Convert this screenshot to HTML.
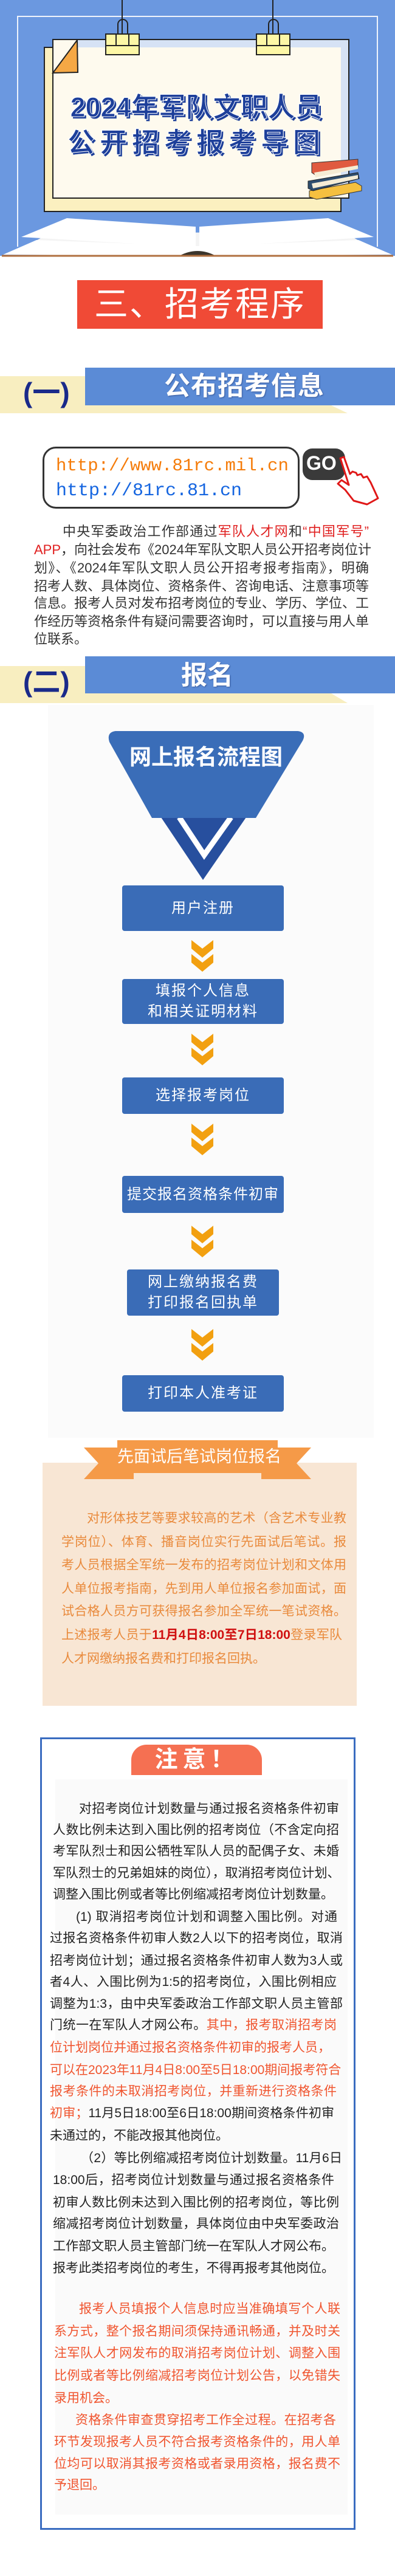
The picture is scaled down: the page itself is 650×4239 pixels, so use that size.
<!DOCTYPE html>
<html><head><meta charset="utf-8">
<style>
*{margin:0;padding:0;box-sizing:border-box}
body{width:650px;height:4239px;background:#fff;overflow:hidden}
#c{position:relative;width:650px;height:4239px;overflow:hidden;font-family:"Liberation Sans","Noto Sans CJK SC",sans-serif}
.a{position:absolute}
.j{position:absolute;text-align:justify;text-align-last:justify;white-space:nowrap;overflow:visible}
.ln{position:absolute;white-space:nowrap}
.box{position:absolute;left:201px;width:266px;background:#3a6cb7;border-radius:4px;color:#fff;font-size:24px;letter-spacing:2px;text-align:center;display:flex;flex-direction:column;justify-content:center;line-height:34px}
.p1{font-size:22px;color:#333;line-height:30px}
.p2{font-size:21px;color:#e98a3c;line-height:30px}
.p3{font-size:21px;color:#222;line-height:30px}
.r{color:#e02020}
.o{color:#f0552f}
</style></head><body><div id="c">

<!-- HEADER -->
<div class="a" style="left:0;top:0;width:650px;height:421px;background:#6b98e0"></div>
<div class="a" style="left:28px;top:26px;width:594px;height:380px;border:2px solid #eef3fc;border-bottom:none"></div>
<div class="a" style="left:200px;top:0;width:2px;height:60px;background:#222"></div>
<div class="a" style="left:448px;top:0;width:2px;height:60px;background:#222"></div>
<div class="a" style="left:72px;top:77px;width:490px;height:272px;background:#fbf0c0;border:2px solid #222"></div>
<div class="a" style="left:86px;top:64px;width:489px;height:263px;background:#fefaee;border:2px solid #222"></div>
<div class="a" style="left:127px;top:66px;width:435px;height:12px;background:#d6e2f5"></div>
<div class="a" style="left:561px;top:66px;width:12px;height:250px;background:#d6e2f5"></div>
<svg class="a" style="left:85px;top:64px" width="45" height="58"><polygon points="2,56 42,2 43,55" fill="#f5a845" stroke="#222" stroke-width="2"/></svg>
<svg class="a" style="left:172px;top:30px" width="60" height="62"><path d="M22 32 V10 a8 8 0 0 1 16 0 V32" fill="none" stroke="#222" stroke-width="2"/><rect x="2" y="26" width="55" height="34" fill="#fdf7a6" stroke="#222" stroke-width="2"/><line x1="2" y1="45" x2="57" y2="45" stroke="#222" stroke-width="2"/><line x1="19" y1="26" x2="19" y2="45" stroke="#222" stroke-width="2"/><line x1="40" y1="26" x2="40" y2="45" stroke="#222" stroke-width="2"/></svg>
<svg class="a" style="left:420px;top:30px" width="60" height="62"><path d="M22 32 V10 a8 8 0 0 1 16 0 V32" fill="none" stroke="#222" stroke-width="2"/><rect x="2" y="26" width="55" height="34" fill="#fdf7a6" stroke="#222" stroke-width="2"/><line x1="2" y1="45" x2="57" y2="45" stroke="#222" stroke-width="2"/><line x1="19" y1="26" x2="19" y2="45" stroke="#222" stroke-width="2"/><line x1="40" y1="26" x2="40" y2="45" stroke="#222" stroke-width="2"/></svg>
<div class="ln" style="left:108px;top:150px;width:430px;text-align:center;font-size:45px;font-weight:bold;color:#1d3f9a;line-height:54px;-webkit-text-stroke:1px #fff;text-shadow:3px 3px 0 #1d3f9a,-1px -1px 0 #fff">2024年军队文职人员</div>
<div class="ln" style="left:108px;top:208px;width:430px;text-align:center;font-size:45px;font-weight:bold;color:#1d3f9a;line-height:54px;letter-spacing:8px;-webkit-text-stroke:1px #fff;text-shadow:3px 3px 0 #1d3f9a,-1px -1px 0 #fff">公开招考报考导图</div>
<svg class="a" style="left:503px;top:258px" width="95" height="72">
<polygon points="6,56 82,42 92,48 92,56 18,70 6,66" fill="#f5c040" stroke="#333" stroke-width="1"/>
<polygon points="4,40 86,26 88,36 12,56 4,52" fill="#2e4d6e" stroke="#222" stroke-width="1"/>
<polygon points="10,44 86,30 86,36 12,52" fill="#f5ecd5"/>
<polygon points="10,10 86,4 86,16 16,30 10,26" fill="#e05a40" stroke="#333" stroke-width="1"/>
<polygon points="14,26 86,14 86,20 16,34" fill="#f5ecd5"/>
</svg>
<svg class="a" style="left:0;top:355px" width="650" height="70">
<polygon points="40,52 100,18 330,28 330,60" fill="#f4f4f4"/>
<polygon points="610,52 550,18 320,28 320,60" fill="#f4f4f4"/>
<polygon points="35,35 110,4 322,18 322,52" fill="#fff"/>
<polygon points="615,35 540,4 328,18 328,52" fill="#fff"/>
<polygon points="5,64 60,40 325,50 325,66" fill="#fff"/>
<polygon points="645,64 590,40 325,50 325,66" fill="#fff"/>
<path d="M295 66 Q325 50 355 66 Z" fill="#3b352c"/>
<line x1="3" y1="66" x2="647" y2="66" stroke="#b07040" stroke-width="3"/>
</svg>
<div class="a" style="left:127px;top:461px;width:404px;height:80px;background:#f04a36"></div>
<div class="ln" style="left:127px;top:466px;width:404px;text-align:center;font-size:56px;color:#fff;line-height:70px;letter-spacing:2px">三、招考程序</div>

<!-- SECTION 1 HEADER -->
<svg class="a" style="left:0;top:600px" width="650" height="90"><polygon points="0,19 140,19 140,67 545,67 572,80 0,80" fill="#f8eec0"/><rect x="140" y="5" width="510" height="62" fill="#5b8bd6"/></svg>
<div class="ln" style="left:38px;top:618px;font-size:46px;font-weight:bold;color:#1a2a8a;line-height:56px">(一)</div>
<div class="ln" style="left:270px;top:610px;font-size:43px;font-weight:bold;color:#fff;line-height:52px;letter-spacing:1px;text-shadow:1px 1px 2px #3a5a9a">公布招考信息</div>

<div class="a" style="left:70px;top:735px;width:423px;height:102px;border:3px solid #333;border-radius:22px;background:#fff"></div>
<div class="ln" style="left:92px;top:748px;font-family:'Liberation Mono',monospace;font-size:29px;color:#f57c0a;line-height:38px">http://www.81rc.mil.cn</div>
<div class="ln" style="left:92px;top:789px;font-family:'Liberation Mono',monospace;font-size:30px;color:#1565e0;line-height:38px">http://81rc.81.cn</div>
<div class="a" style="left:498px;top:738px;width:70px;height:52px;background:#3a3a3a;border-radius:16px"></div>
<div class="ln" style="left:504px;top:742px;font-size:32px;font-weight:bold;color:#fff;line-height:40px">GO</div>
<svg class="a" style="left:552px;top:750px" width="80" height="82"><path d="M8 4 L14 2 L24 30 L28 26 L34 28 L36 32 L42 30 L46 36 L52 34 L58 44 L70 70 L52 80 L30 74 L16 56 L4 46 L10 40 L22 48 Z" fill="#fff" stroke="#e01818" stroke-width="3" stroke-linejoin="round"/></svg>

<div class="j p1" style="left:103px;top:860px;width:504px"><span>中央军委政治工作部通过</span><span class="r">军队人才网</span><span>和</span><span class="r">“中国军号”</span></div>
<div class="j p1" style="left:56px;top:890px;width:551px"><span class="r">APP</span>，向社会发布《2024年军队文职人员公开招考岗位计</div>
<div class="j p1" style="left:56px;top:920px;width:551px">划》、《2024年军队文职人员公开招考报考指南》，明确</div>
<div class="j p1" style="left:56px;top:950px;width:551px">招考人数、具体岗位、资格条件、咨询电话、注意事项等</div>
<div class="j p1" style="left:56px;top:978px;width:551px">信息。报考人员对发布招考岗位的专业、学历、学位、工</div>
<div class="j p1" style="left:56px;top:1008px;width:551px">作经历等资格条件有疑问需要咨询时，可以直接与用人单</div>
<div class="ln p1" style="left:56px;top:1037px">位联系。</div>

<!-- SECTION 2 HEADER -->
<svg class="a" style="left:0;top:1075px" width="650" height="90"><polygon points="0,21 140,21 140,66 545,66 572,82 0,82" fill="#f8eec0"/><rect x="140" y="5" width="510" height="61" fill="#5b8bd6"/></svg>
<div class="ln" style="left:38px;top:1094px;font-size:46px;font-weight:bold;color:#1a2a8a;line-height:56px">(二)</div>
<div class="ln" style="left:298px;top:1086px;font-size:43px;font-weight:bold;color:#fff;line-height:52px;text-shadow:1px 1px 2px #3a5a9a">报名</div>

<div class="a" style="left:79px;top:1160px;width:536px;height:1206px;background:#fbfbfb"></div>
<svg class="a" style="left:0;top:1195px" width="650" height="260">
<polygon points="265,150 405,150 334,253" fill="#274f9e"/>
<polyline points="295,150 336,212 380,150" fill="none" stroke="#fff" stroke-width="9"/>
<path d="M190,8 L490,8 Q505,10 498,24 L421,151 L250,151 L180,26 Q175,10 190,8 Z" fill="#3a6db8"/>
</svg>
<div class="ln" style="left:178px;top:1224px;width:322px;text-align:center;font-size:36px;font-weight:bold;color:#fff;line-height:44px">网上报名流程图</div>

<div class="box" style="top:1457px;height:75px">用户注册</div>
<div class="box" style="top:1611px;height:74px">填报个人信息<br>和相关证明材料</div>
<div class="box" style="top:1773px;height:60px">选择报考岗位</div>
<div class="box" style="top:1935px;height:61px;letter-spacing:1px">提交报名资格条件初审</div>
<div class="box" style="top:2089px;height:76px;left:209px;width:250px">网上缴纳报名费<br>打印报名回执单</div>
<div class="box" style="top:2263px;height:60px">打印本人准考证</div>

<svg width="0" height="0" style="position:absolute"><defs><g id="chev"><polygon points="0,0 18,14 36,0 36,14 18,29 0,14" fill="#f2a010"/><polygon points="0,23 18,37 36,23 36,37 18,52 0,37" fill="#f2a010"/></g></defs></svg>
<svg class="a" style="left:315px;top:1547px" width="37" height="53"><use href="#chev"/></svg>
<svg class="a" style="left:315px;top:1701px" width="37" height="53"><use href="#chev"/></svg>
<svg class="a" style="left:315px;top:1849px" width="37" height="53"><use href="#chev"/></svg>
<svg class="a" style="left:315px;top:2017px" width="37" height="53"><use href="#chev"/></svg>
<svg class="a" style="left:315px;top:2187px" width="37" height="53"><use href="#chev"/></svg>

<!-- ORANGE SECTION -->
<div class="a" style="left:70px;top:2407px;width:517px;height:400px;background:#f8e6d4"></div>
<svg class="a" style="left:130px;top:2365px" width="390" height="75">
<polygon points="8,17 90,17 90,69 8,69 32,43" fill="#f59a48"/>
<polygon points="382,17 300,17 300,69 382,69 358,43" fill="#f59a48"/>
<rect x="63" y="5" width="264" height="54" fill="#f59a48"/>
</svg>
<div class="ln" style="left:193px;top:2377px;width:264px;text-align:center;font-size:27px;color:#fff;line-height:40px">先面试后笔试岗位报名</div>
<div class="j p2" style="left:143px;top:2484px;width:427px">对形体技艺等要求较高的艺术（含艺术专业教</div>
<div class="j p2" style="left:101px;top:2523px;width:469px">学岗位）、体育、播音岗位实行先面试后笔试。报</div>
<div class="j p2" style="left:101px;top:2561px;width:469px">考人员根据全军统一发布的招考岗位计划和文体用</div>
<div class="j p2" style="left:101px;top:2600px;width:469px">人单位报考指南，先到用人单位报名参加面试，面</div>
<div class="j p2" style="left:101px;top:2637px;width:469px">试合格人员方可获得报名参加全军统一笔试资格。</div>
<div class="j p2" style="left:101px;top:2676px;width:462px">上述报考人员于<b style="color:#d01010">11月4日8:00至7日18:00</b>登录军队</div>
<div class="ln p2" style="left:101px;top:2715px">人才网缴纳报名费和打印报名回执。</div>

<!-- NOTICE BOX -->
<div class="a" style="left:66px;top:2859px;width:519px;height:1304px;border:3px solid #3a6cc0;background:#fff"></div>
<div class="a" style="left:91px;top:2928px;width:481px;height:1210px;background:#fafafa"></div>
<div class="a" style="left:216px;top:2871px;width:215px;height:50px;background:#f57052;border-radius:25px 25px 0 0/25px 25px 0 0"></div>
<div class="ln" style="left:216px;top:2872px;width:215px;text-align:center;font-size:38px;font-weight:bold;color:#fff;line-height:48px;letter-spacing:8px">注意！</div>

<div class="j p3" style="left:130px;top:2962px;width:428px">对招考岗位计划数量与通过报名资格条件初审</div>
<div class="j p3" style="left:87px;top:2997px;width:471px">人数比例未达到入围比例的招考岗位（不含定向招</div>
<div class="j p3" style="left:87px;top:3032px;width:471px">考军队烈士和因公牺牲军队人员的配偶子女、未婚</div>
<div class="j p3" style="left:87px;top:3068px;width:471px">军队烈士的兄弟姐妹的岗位），取消招考岗位计划、</div>
<div class="ln p3" style="left:87px;top:3103px">调整入围比例或者等比例缩减招考岗位计划数量。</div>
<div class="j p3" style="left:125px;top:3140px;width:430px">(1) 取消招考岗位计划和调整入围比例。对通</div>
<div class="j p3" style="left:82px;top:3175px;width:482px">过报名资格条件初审人数2人以下的招考岗位，取消</div>
<div class="j p3" style="left:82px;top:3212px;width:482px">招考岗位计划；通过报名资格条件初审人数为3人或</div>
<div class="j p3" style="left:82px;top:3247px;width:472px">者4人、入围比例为1:5的招考岗位，入围比例相应</div>
<div class="j p3" style="left:82px;top:3283px;width:482px">调整为1:3，由中央军委政治工作部文职人员主管部</div>
<div class="j p3" style="left:82px;top:3318px;width:472px">门统一在军队人才网公布。<span class="o">其中，报考取消招考岗</span></div>
<div class="j p3 o" style="left:82px;top:3355px;width:460px">位计划岗位并通过报名资格条件初审的报考人员，</div>
<div class="j p3 o" style="left:82px;top:3392px;width:478px">可以在2023年11月4日8:00至5日18:00期间报考符合</div>
<div class="j p3 o" style="left:82px;top:3427px;width:472px">报考条件的未取消招考岗位，并重新进行资格条件</div>
<div class="j p3" style="left:82px;top:3463px;width:468px"><span class="o">初审；</span>11月5日18:00至6日18:00期间资格条件初审</div>
<div class="ln p3" style="left:82px;top:3500px">未通过的，不能改报其他岗位。</div>
<div class="j p3" style="left:133px;top:3537px;width:430px">（2）等比例缩减招考岗位计划数量。11月6日</div>
<div class="j p3" style="left:87px;top:3573px;width:463px">18:00后，招考岗位计划数量与通过报名资格条件</div>
<div class="j p3" style="left:87px;top:3610px;width:471px">初审人数比例未达到入围比例的招考岗位，等比例</div>
<div class="j p3" style="left:87px;top:3645px;width:471px">缩减招考岗位计划数量，具体岗位由中央军委政治</div>
<div class="j p3" style="left:87px;top:3682px;width:463px">工作部文职人员主管部门统一在军队人才网公布。</div>
<div class="j p3" style="left:87px;top:3718px;width:463px">报考此类招考岗位的考生，不得再报考其他岗位。</div>
<div class="j p3 o" style="left:130px;top:3785px;width:430px">报考人员填报个人信息时应当准确填写个人联</div>
<div class="j p3 o" style="left:89px;top:3822px;width:471px">系方式，整个报名期间须保持通讯畅通，并及时关</div>
<div class="j p3 o" style="left:89px;top:3858px;width:471px">注军队人才网发布的取消招考岗位计划、调整入围</div>
<div class="j p3 o" style="left:89px;top:3895px;width:471px">比例或者等比例缩减招考岗位计划公告，以免错失</div>
<div class="ln p3 o" style="left:89px;top:3932px">录用机会。</div>
<div class="j p3 o" style="left:124px;top:3968px;width:429px">资格条件审查贯穿招考工作全过程。在招考各</div>
<div class="j p3 o" style="left:89px;top:4004px;width:471px">环节发现报考人员不符合报考资格条件的，用人单</div>
<div class="j p3 o" style="left:89px;top:4040px;width:471px">位均可以取消其报考资格或者录用资格，报名费不</div>
<div class="ln p3 o" style="left:89px;top:4075px">予退回。</div>

</div></body></html>
